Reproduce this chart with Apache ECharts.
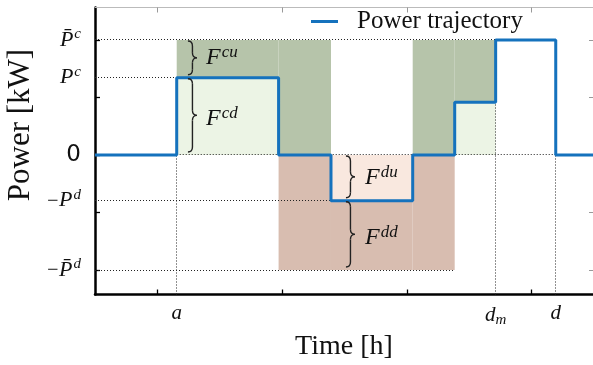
<!DOCTYPE html>
<html><head><meta charset="utf-8">
<script src="https://cdn.jsdelivr.net/npm/echarts@6/dist/echarts.min.js"></script>
<style>html,body{margin:0;padding:0;background:#fff}#c{width:593px;height:365px}</style>
</head><body><div id="c"></div>
<script>
// axis ranges
const xMin = 0, xMax = 24;
const yMin = -2.426, yMax = 2.565;
const xTicks = [3, 9, 15, 21];
const yTicks = [-2, -1, 0, 1, 2];

// switching instants [h]
const tA = 3.93, t1 = 8.83, t2 = 11.35, t3 = 15.28, t4 = 17.30, tDm = 19.27, tD = 22.16;
// power levels
const Pbc = 2, Pc = 1.344, Pd = 0.795, Pbd = 2, Pmid = 0.917;

// power trajectory (value held from each time to the next)
const trajTimes = [0, tA, t1, t2, t3, t4, tDm, tD, 24];
const trajPower = [0, Pc, 0, -Pd, 0, Pmid, Pbc, 0, 0];

// tick labels
const yLabelValues = [Pbc, Pc, 0, -Pd, -Pbd];
const yLabelTexts = ['{m|P\u0304}{s|c}', '{m|P}{s|c}', '{z|0}', '{n|\u2212}{m|P}{s|d}', '{n|\u2212}{m|P\u0304}{s|d}'];
const xLabelValues = [tA, tDm, tD];
const xLabelTexts = ['{m|a}', '{m|d}{b|m}', '{m|d}'];

// flexibility areas: [x0, x1, y0, y1]
const areaCU = [[tA, t1, Pc, Pbc], [t1, t2, 0, Pbc], [t3, t4, 0, Pbc], [t4, tDm, Pmid, Pbc]];
const areaCD = [[tA, t1, 0, Pc], [t4, tDm, 0, Pmid]];
const areaDD = [[t1, t2, -Pbd, 0], [t2, t3, -Pbd, -Pd], [t3, t4, -Pbd, 0]];
const areaDU = [[t2, t3, -Pd, 0]];

// dotted guides: horizontal [y, x0, x1], vertical [x, y0, y1]
const hGuides = [[Pbc, xMin, tDm], [Pc, xMin, tA], [0, tA, tD], [-Pd, xMin, t2], [-Pbd, xMin, t4]];
const vGuides = [[tA, yMin, 0], [tDm, yMin, Pmid], [tD, yMin, 0]];

// braces: [x, yTop, yBottom] and their labels [x, y, superscript]
const braces = [[4.47, Pbc, Pc], [4.47, Pc, 0], [12.07, 0, -Pd], [12.07, -Pd, -Pbd]];
const braceLabels = [[5.34, 1.70, 'cu'], [5.34, 0.64, 'cd'], [12.99, -0.40, 'du'], [12.99, -1.44, 'dd']];

const BLUE = '#1572bd';
const SERIF = 'Liberation Serif';

function nearestText(vals, texts, v) {
  let bi = 0, bd = Infinity;
  vals.forEach((x, i) => { const d = Math.abs(x - v); if (d < bd) { bd = d; bi = i; } });
  return texts[bi];
}
const snap = v => Math.round(v - 0.5) + 0.5;

function rectSeries(data, color, z) {
  return {
    type: 'custom', coordinateSystem: 'cartesian2d', silent: true, z: z, data: data,
    encode: { x: [0, 1], y: [2, 3] },
    renderItem(params, api) {
      const p0 = api.coord([api.value(0), api.value(3)]);
      const p1 = api.coord([api.value(1), api.value(2)]);
      return { type: 'rect', shape: { x: p0[0], y: p0[1], width: p1[0] - p0[0], height: p1[1] - p0[1] },
               style: { fill: color } };
    }
  };
}

const dotStyle = { stroke: '#222', lineWidth: 1, lineDash: [1, 2] };

const chart = echarts.init(document.getElementById('c'), null, { renderer: 'canvas' });
chart.setOption({
  animation: false,
  backgroundColor: '#fff',
  grid: { left: 95, top: 7.5, width: 499, height: 287, outerBoundsMode: 'none' },
  legend: {
    data: ['Power trajectory'], left: 311, top: 9, padding: 0,
    icon: 'rect', itemWidth: 27, itemHeight: 3,
    textStyle: { fontFamily: SERIF, fontSize: 25, color: '#111', padding: [0, 0, 0, 14] }
  },
  xAxis: [{
    type: 'value', min: xMin, max: xMax, position: 'bottom',
    axisLine: { onZero: false, lineStyle: { color: '#000', width: 2.5 } },
    axisTick: { show: true, inside: true, length: 5, customValues: xTicks, lineStyle: { color: '#000', width: 1.3 } },
    axisLabel: {
      customValues: xLabelValues, margin: 8,
      formatter: v => nearestText(xLabelValues, xLabelTexts, v),
      rich: {
        m: { fontFamily: SERIF, fontStyle: 'italic', fontSize: 21, color: '#111' },
        b: { fontFamily: SERIF, fontStyle: 'italic', fontSize: 15, color: '#111', padding: [10, 0, 0, 0] }
      }
    },
    splitLine: { show: false }
  }, {
    type: 'value', min: xMin, max: xMax, position: 'top',
    axisLine: { onZero: false, lineStyle: { color: '#bbb', width: 1 } },
    axisTick: { show: true, inside: true, length: 5, customValues: xTicks, lineStyle: { color: '#999', width: 1 } },
    axisLabel: { show: false }, splitLine: { show: false }
  }],
  yAxis: [{
    type: 'value', min: yMin, max: yMax, position: 'left',
    axisLine: { onZero: false, lineStyle: { color: '#000', width: 2.5 } },
    axisTick: { show: true, inside: true, length: 5, customValues: yTicks, lineStyle: { color: '#000', width: 1.3 } },
    axisLabel: {
      customValues: yLabelValues, margin: 14,
      formatter: v => nearestText(yLabelValues, yLabelTexts, v),
      rich: {
        m: { fontFamily: SERIF, fontStyle: 'italic', fontSize: 22, color: '#111' },
        s: { fontFamily: SERIF, fontStyle: 'italic', fontSize: 15, color: '#111', padding: [0, 0, 12, 1] },
        n: { fontFamily: 'DejaVu Sans', fontSize: 15, color: '#444' },
        z: { fontFamily: 'DejaVu Sans', fontSize: 23, color: '#111' }
      }
    },
    splitLine: { show: false }
  }, {
    type: 'value', min: yMin, max: yMax, position: 'right',
    axisLine: { onZero: false, lineStyle: { color: '#bbb', width: 1 } },
    axisTick: { show: true, inside: true, length: 5, customValues: yTicks, lineStyle: { color: '#999', width: 1 } },
    axisLabel: { show: false }, splitLine: { show: false }
  }],
  graphic: [
    { type: 'text', x: 21, y: 125, rotation: Math.PI / 2,
      style: { text: 'Power [kW]', font: '31px "Liberation Serif"', fill: '#111', align: 'center', verticalAlign: 'middle' } },
    { type: 'text', x: 344, y: 347,
      style: { text: 'Time [h]', font: '28px "Liberation Serif"', fill: '#111', align: 'center', verticalAlign: 'middle' } }
  ],
  series: [
    rectSeries(areaCU, '#b6c4aa', 1),
    rectSeries(areaCD, '#ecf4e5', 1),
    rectSeries(areaDD, '#d8bdb0', 1),
    rectSeries(areaDU, '#f9e8df', 1),
    {
      type: 'custom', coordinateSystem: 'cartesian2d', silent: true, z: 2, data: hGuides,
      encode: { x: [1, 2], y: 0 },
      renderItem(params, api) {
        const a = api.coord([api.value(1), api.value(0)]);
        const b = api.coord([api.value(2), api.value(0)]);
        const y = snap(a[1]);
        return { type: 'line', shape: { x1: a[0], y1: y, x2: b[0], y2: y }, style: dotStyle };
      }
    },
    {
      type: 'custom', coordinateSystem: 'cartesian2d', silent: true, z: 2, data: vGuides,
      encode: { x: 0, y: [1, 2] },
      renderItem(params, api) {
        const a = api.coord([api.value(0), api.value(1)]);
        const b = api.coord([api.value(0), api.value(2)]);
        const x = snap(a[0]);
        return { type: 'line', shape: { x1: x, y1: a[1], x2: x, y2: b[1] }, style: dotStyle };
      }
    },
    {
      name: 'Power trajectory', type: 'line', step: 'end', z: 5,
      data: trajTimes.map((t, i) => [t, trajPower[i]]),
      symbol: 'none', color: BLUE,
      lineStyle: { color: BLUE, width: 3 }
    },
    {
      type: 'custom', coordinateSystem: 'cartesian2d', silent: true, z: 6, data: braces,
      encode: { x: 0, y: [1, 2] },
      renderItem(params, api) {
        const top = api.coord([api.value(0), api.value(1)]);
        const bot = api.coord([api.value(0), api.value(2)]);
        const x0 = top[0], w = 9, x1 = x0 + w / 2, r = 5;
        const yt = top[1] + 1, yb = bot[1] - 3, ym = (yt + yb) / 2;
        const st = { stroke: '#222', lineWidth: 1.4, fill: null };
        return { type: 'group', children: [
          { type: 'bezierCurve', shape: { x1: x0, y1: yt, cpx1: x1, cpy1: yt, x2: x1, y2: yt + r }, style: st },
          { type: 'line', shape: { x1: x1, y1: yt + r, x2: x1, y2: ym - r }, style: st },
          { type: 'bezierCurve', shape: { x1: x1, y1: ym - r, cpx1: x1, cpy1: ym, x2: x0 + w, y2: ym }, style: st },
          { type: 'bezierCurve', shape: { x1: x0 + w, y1: ym, cpx1: x1, cpy1: ym, x2: x1, y2: ym + r }, style: st },
          { type: 'line', shape: { x1: x1, y1: ym + r, x2: x1, y2: yb - r }, style: st },
          { type: 'bezierCurve', shape: { x1: x1, y1: yb - r, cpx1: x1, cpy1: yb, x2: x0, y2: yb }, style: st }
        ] };
      }
    },
    {
      type: 'custom', coordinateSystem: 'cartesian2d', silent: true, z: 6, data: braceLabels,
      encode: { x: 0, y: 1 },
      renderItem(params, api) {
        const p = api.coord([api.value(0), api.value(1)]);
        const sup = braceLabels[params.dataIndex][2];
        return { type: 'text', x: p[0], y: p[1], style: {
          text: '{F|F}{s|' + sup + '}', align: 'left', verticalAlign: 'middle',
          rich: {
            F: { fontFamily: SERIF, fontStyle: 'italic', fontSize: 24, fill: '#111' },
            s: { fontFamily: SERIF, fontStyle: 'italic', fontSize: 17, fill: '#111', padding: [0, 0, 10, 1] }
          }
        } };
      }
    }
  ]
});
</script>
</body></html>
